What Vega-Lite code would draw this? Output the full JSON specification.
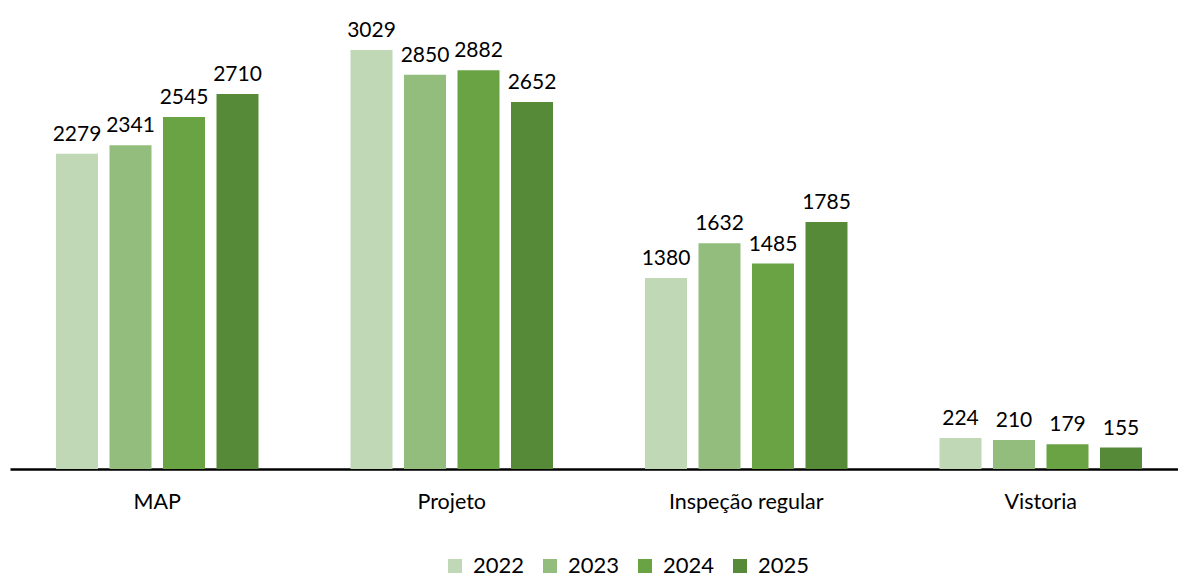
{
  "$schema": "https://vega.github.io/schema/vega-lite/v6.json",
  "width": 1168,
  "height": 469,
  "autosize": "none",
  "padding": {"left": 10, "top": 0, "right": 0, "bottom": 110},
  "background": "white",
  "config": {"view": {"stroke": null}, "font": "Lato"},
  "data": {"values": [
    {"cat": "MAP", "year": "2022", "value": 2279},
    {"cat": "MAP", "year": "2023", "value": 2341},
    {"cat": "MAP", "year": "2024", "value": 2545},
    {"cat": "MAP", "year": "2025", "value": 2710},
    {"cat": "Projeto", "year": "2022", "value": 3029},
    {"cat": "Projeto", "year": "2023", "value": 2850},
    {"cat": "Projeto", "year": "2024", "value": 2882},
    {"cat": "Projeto", "year": "2025", "value": 2652},
    {"cat": "Inspeção regular", "year": "2022", "value": 1380},
    {"cat": "Inspeção regular", "year": "2023", "value": 1632},
    {"cat": "Inspeção regular", "year": "2024", "value": 1485},
    {"cat": "Inspeção regular", "year": "2025", "value": 1785},
    {"cat": "Vistoria", "year": "2022", "value": 224},
    {"cat": "Vistoria", "year": "2023", "value": 210},
    {"cat": "Vistoria", "year": "2024", "value": 179},
    {"cat": "Vistoria", "year": "2025", "value": 155}
  ]},
  "encoding": {
    "x": {"field": "cat", "type": "nominal", "sort": null,
      "scale": {"range": [0, 1178], "paddingInner": 0, "paddingOuter": 0},
      "axis": {"title": null, "labelAngle": 0, "ticks": false, "domainColor": "black", "domainWidth": 2.5,
        "labelFontSize": 21.5, "labelColor": "#000000", "labelPadding": 22, "labelFont": "Lato"}},
    "xOffset": {"field": "year", "type": "nominal", "scale": {"paddingInner": 0.215, "paddingOuter": 0.86}},
    "y": {"field": "value", "type": "quantitative", "scale": {"domain": [0, 3390]}, "axis": null}
  },
  "layer": [
    {"mark": {"type": "bar"},
     "encoding": {"color": {"field": "year", "type": "nominal",
       "scale": {"domain": ["2022", "2023", "2024", "2025"], "range": ["#C0D8B6", "#93BD7C", "#69A343", "#578A38"]},
       "legend": {"title": null, "orient": "none", "direction": "horizontal", "legendX": 434, "legendY": 555,
         "symbolType": "square", "symbolSize": 196, "symbolStrokeWidth": 0, "labelFontSize": 22, "labelColor": "#000000",
         "labelFont": "Lato", "columnPadding": 14, "labelOffset": 7}}}},
    {"mark": {"type": "text", "baseline": "bottom", "dy": -9, "fontSize": 21, "color": "#000000", "font": "Lato"},
     "encoding": {"text": {"field": "value", "type": "quantitative"}}}
  ]
}
